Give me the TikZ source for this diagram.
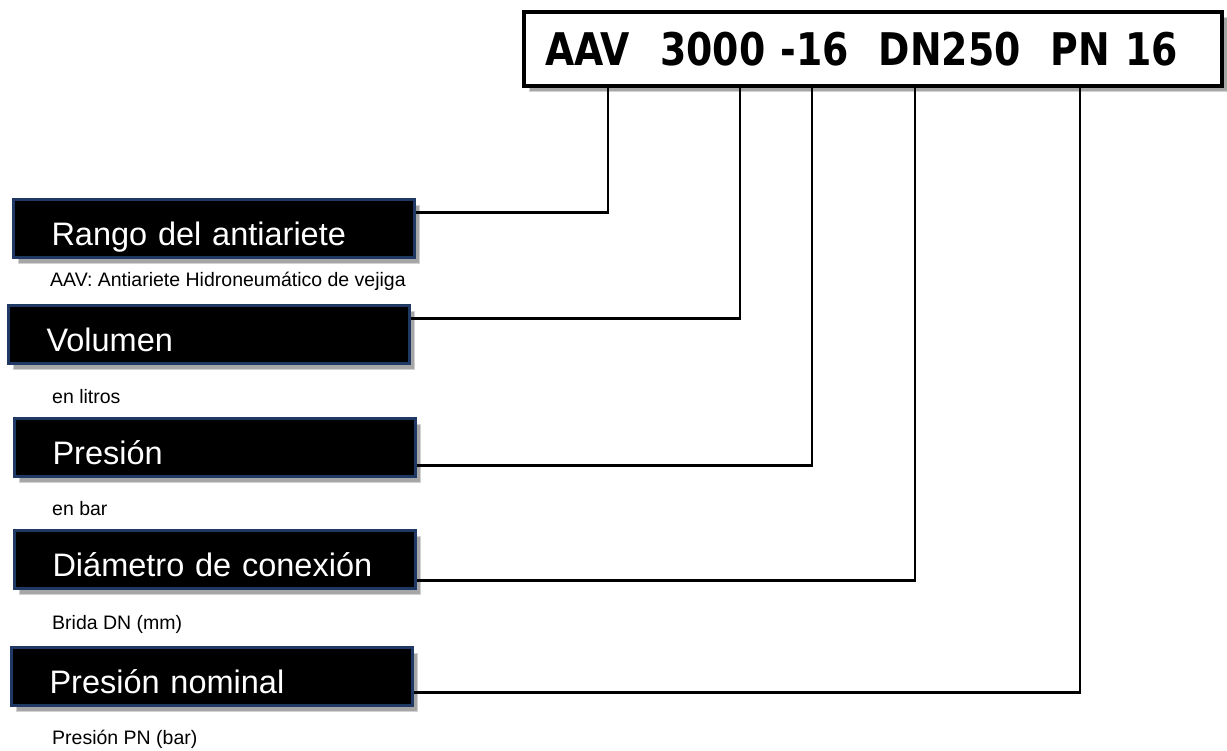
\documentclass[tikz,border=0pt]{standalone}
\usepackage{fontspec}
\setmainfont{Liberation Sans}
\newfontfamily\codefont{DejaVu Sans}[FakeStretch=0.84]
\definecolor{navy}{HTML}{1F3864}
\newcommand\nohyph{\hyphenpenalty 10000\exhyphenpenalty 10000\relax}
\usetikzlibrary{positioning, shadows}

\begin{document}
\begin{tikzpicture}[x=1pt, y=-1pt,
    field/.style={anchor=north west, fill=black, draw=navy, line width=3pt, minimum width=401pt, minimum height=58pt, text width=325pt, inner xsep=38pt, inner ysep=0pt, align=left, text=white, font=\fontsize{32.5}{33}\selectfont\nohyph, text height=34pt, text depth=0pt, general shadow={shadow xshift=5pt, shadow yshift=-6pt, fill=gray!70, draw=gray!35, line width=1pt}},
    code/.style={anchor=north west, fill=white, draw=black, line width=4pt, minimum width=698pt, minimum height=74pt, text width=656pt, inner xsep=21pt, inner ysep=0pt, align=left, font=\codefont\bfseries\fontsize{45}{45}\selectfont, text height=33pt, text depth=0pt, general shadow={shadow xshift=5pt, shadow yshift=-6pt, fill=gray!70, draw=gray!35, line width=1pt}},
    note/.style={anchor=base west, inner sep=0pt, font=\fontsize{19.5}{19.5}\selectfont},
    link/.style={line width=2.5pt}
]
    \useasboundingbox (0,0) rectangle (1227,751);

    \node[code] (code) at (522,10) {AAV\ \ 3000 -16\ \ DN250\ \ PN 16};

    \node[field] (rango) at (12,198) {Rango del antiariete};
    \node[field] (volumen) at (7,304) {Volumen};
    \node[field] (presion) at (13,417) {Presión};
    \node[field] (diametro) at (13,529) {Diámetro de conexión};
    \node[field] (nominal) at (10,646) {Presión nominal};

    % Notes
    \node[note] (n1) at (50,287) {AAV: Antiariete Hidroneumático de vejiga};
    \node[note] (n2) at (52,403) {en litros};
    \node[note] (n3) at (52,515) {en bar};
    \node[note] (n4) at (52,629) {Brida DN (mm)};
    \node[note] (n5) at (52,744) {Presión PN (bar)};

    % Ticks under the code
    \coordinate (x1) at (608,0);
    \coordinate (x2) at (740,0);
    \coordinate (x3) at (812,0);
    \coordinate (x4) at (915,0);
    \coordinate (x5) at (1080,0);

    \draw[link] ([yshift=16pt]rango.east) -| (x1 |- code.south);
    \draw[link] ([yshift=16pt]volumen.east) -| (x2 |- code.south);
    \draw[link] ([yshift=-18pt]presion.east) -| (x3 |- code.south);
    \draw[link] ([yshift=-21pt]diametro.east) -| (x4 |- code.south);
    \draw[link] ([yshift=-16pt]nominal.east) -| (x5 |- code.south);
\end{tikzpicture}
\end{document}
